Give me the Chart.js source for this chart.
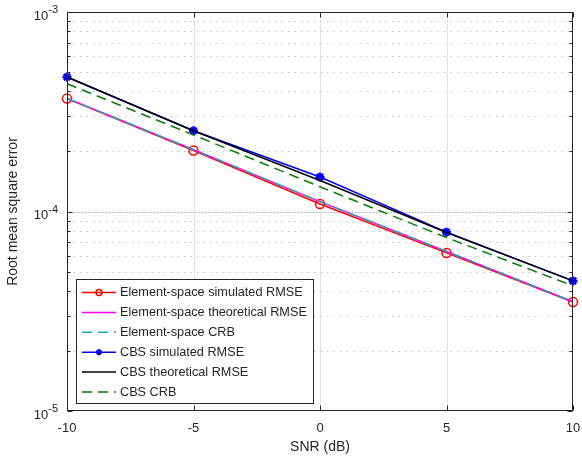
<!DOCTYPE html>
<html>
<head>
<meta charset="utf-8">
<script src="https://cdn.jsdelivr.net/npm/chart.js@4.4.0/dist/chart.umd.min.js"></script>
<style>
  body { margin: 0; background: #fff; }
  #wrap { width: 582px; height: 460px; }
</style>
</head>
<body>
<div id="wrap"><canvas id="rmseChart" width="582" height="460"></canvas></div>
<script>
// values
const snr = [-10, -5, 0, 5, 10];
const esSimulated = [3.68e-4, 2.02e-4, 1.09e-4, 6.2e-5, 3.52e-5];
const esTheory = [3.69e-4, 2.04e-4, 1.12e-4, 6.3e-5, 3.53e-5];
const esCrb = [3.69e-4, 2.04e-4, 1.12e-4, 6.3e-5, 3.53e-5];
const cbsSimulated = [4.72e-4, 2.54e-4, 1.49e-4, 7.88e-5, 4.49e-5];
const cbsTheory = [4.72e-4, 2.54e-4, 1.43e-4, 7.85e-5, 4.49e-5];
const cbsCrb = [4.37e-4, 2.42e-4, 1.33e-4, 7.4e-5, 4.24e-5];
const xTicks = [-10, -5, 0, 5, 10];
const yDecades = [-5, -4, -3];

const FONT = '"Liberation Sans", Arial, sans-serif';
const INK = '#262626';

function pts(arr) {
    return snr.map((x, i) => ({ x: x, y: arr[i] }));
}

function series(label, data, color, opts, order) {
    return Object.assign({
        label: label,
        data: pts(data),
        borderColor: color,
        backgroundColor: color,
        borderWidth: 1.5,
        pointRadius: 0,
        clip: false,
        order: order
    }, opts);
}

const datasets = [
    series('Element-space simulated RMSE', esSimulated, '#ff0000',
        { pointStyle: 'circle', pointRadius: 4.5, pointBorderWidth: 1.5, pointBackgroundColor: 'rgba(0,0,0,0)' }, 6),
    series('Element-space theoretical RMSE', esTheory, '#ff00ff', {}, 5),
    series('Element-space CRB', esCrb, '#1fa5ac', { borderDash: [10, 6] }, 4),
    series('CBS simulated RMSE', cbsSimulated, '#0000ff',
        { pointStyle: 'star', pointRadius: 4.5, pointBorderWidth: 2.5 }, 3),
    series('CBS theoretical RMSE', cbsTheory, '#000000', {}, 2),
    series('CBS CRB', cbsCrb, '#008000', { borderDash: [10, 6] }, 1)
];

const frame = {
    id: 'frame',
    beforeDraw(chart) {
        const ctx = chart.ctx;
        ctx.save();
        ctx.fillStyle = '#fff';
        ctx.fillRect(0, 0, chart.width, chart.height);
        ctx.restore();
    },
    beforeDatasetsDraw(chart) {
        const ctx = chart.ctx, a = chart.chartArea;
        const xs = chart.scales.x, ys = chart.scales.y;
        ctx.save();
        ctx.lineWidth = 1;
        // vertical major grid
        ctx.strokeStyle = '#e2e2e2';
        xTicks.slice(1, -1).forEach(v => {
            const px = Math.round(xs.getPixelForValue(v)) + 0.5;
            ctx.beginPath(); ctx.moveTo(px, a.top); ctx.lineTo(px, a.bottom); ctx.stroke();
        });
        // horizontal minor grid (dotted)
        ctx.strokeStyle = '#c4c4c4';
        ctx.setLineDash([1.5, 5]);
        yDecades.slice(0, -1).forEach(e => {
            for (let k = 2; k <= 9; k++) {
                const py = Math.round(ys.getPixelForValue(k * Math.pow(10, e))) + 0.5;
                ctx.beginPath(); ctx.moveTo(a.left, py); ctx.lineTo(a.right, py); ctx.stroke();
            }
        });
        // inner major decade lines
        yDecades.slice(1, -1).forEach(e => {
            const py = Math.round(ys.getPixelForValue(Math.pow(10, e))) + 0.5;
            ctx.setLineDash([]);
            ctx.strokeStyle = '#e6e6e6';
            ctx.beginPath(); ctx.moveTo(a.left, py); ctx.lineTo(a.right, py); ctx.stroke();
            ctx.setLineDash([1, 2]);
            ctx.strokeStyle = '#a8a8a8';
            ctx.beginPath(); ctx.moveTo(a.left, py); ctx.lineTo(a.right, py); ctx.stroke();
        });
        ctx.restore();
    },
    afterDatasetsDraw(chart) {
        const ctx = chart.ctx, a = chart.chartArea;
        const xs = chart.scales.x, ys = chart.scales.y;
        const L = Math.round(a.left) + 0.5, R = Math.round(a.right) - 0.5;
        const T = Math.round(a.top) + 0.5, B = Math.round(a.bottom) - 0.5;
        ctx.save();
        ctx.strokeStyle = INK;
        ctx.lineWidth = 1;
        ctx.strokeRect(L, T, R - L, B - T);

        // tick marks, pointing inward
        ctx.beginPath();
        xTicks.forEach(v => {
            const px = Math.round(xs.getPixelForValue(v)) + 0.5;
            ctx.moveTo(px, B); ctx.lineTo(px, B - 5);
            ctx.moveTo(px, T); ctx.lineTo(px, T + 5);
        });
        yDecades.forEach((e, i) => {
            const py = Math.round(ys.getPixelForValue(Math.pow(10, e))) + 0.5;
            ctx.moveTo(L, py); ctx.lineTo(L + 5, py);
            ctx.moveTo(R, py); ctx.lineTo(R - 5, py);
            if (i < yDecades.length - 1) {
                for (let k = 2; k <= 9; k++) {
                    const my = Math.round(ys.getPixelForValue(k * Math.pow(10, e))) + 0.5;
                    ctx.moveTo(L, my); ctx.lineTo(L + 3, my);
                    ctx.moveTo(R, my); ctx.lineTo(R - 3, my);
                }
            }
        });
        ctx.stroke();

        // tick labels
        ctx.fillStyle = INK;
        ctx.textBaseline = 'middle';
        ctx.textAlign = 'center';
        ctx.font = '13px ' + FONT;
        xTicks.forEach(v => {
            ctx.fillText(String(v), xs.getPixelForValue(v), 428);
        });
        yDecades.forEach(e => {
            const py = ys.getPixelForValue(Math.pow(10, e));
            const sup = String(e);
            ctx.textAlign = 'right';
            ctx.font = '11px ' + FONT;
            const sw = ctx.measureText(sup).width;
            ctx.fillText(sup, 58, py - 2);
            ctx.font = '13px ' + FONT;
            ctx.fillText('10', 58 - sw, py + 4);
        });

        // axis titles
        ctx.font = '14px ' + FONT;
        ctx.textAlign = 'center';
        ctx.fillText('SNR (dB)', (a.left + a.right) / 2, 447);
        ctx.save();
        ctx.translate(13, (a.top + a.bottom) / 2);
        ctx.rotate(-Math.PI / 2);
        ctx.fillText('Root mean square error', 0, 0);
        ctx.restore();

        // legend box
        const bx = 76.5, by = 279.5, bw = 237, bh = 124;
        ctx.fillStyle = '#fff';
        ctx.fillRect(bx, by, bw, bh);
        ctx.strokeStyle = INK;
        ctx.strokeRect(bx, by, bw, bh);
        ctx.font = '12.7px ' + FONT;
        ctx.textAlign = 'left';
        chart.data.datasets.forEach((ds, i) => {
            const cy = 292.5 + i * 19.9;
            ctx.strokeStyle = ds.borderColor;
            ctx.lineWidth = 1.5;
            ctx.setLineDash(ds.borderDash || []);
            ctx.beginPath(); ctx.moveTo(82, cy); ctx.lineTo(116, cy); ctx.stroke();
            ctx.setLineDash([]);
            if (ds.pointStyle === 'circle') {
                ctx.beginPath(); ctx.arc(99, cy, 3, 0, Math.PI * 2); ctx.stroke();
            } else if (ds.pointStyle === 'star') {
                ctx.lineWidth = 2;
                ctx.beginPath();
                for (let k = 0; k < 4; k++) {
                    const ang = k * Math.PI / 4;
                    ctx.moveTo(99 - 3 * Math.cos(ang), cy - 3 * Math.sin(ang));
                    ctx.lineTo(99 + 3 * Math.cos(ang), cy + 3 * Math.sin(ang));
                }
                ctx.stroke();
            }
            ctx.fillStyle = INK;
            ctx.fillText(ds.label, 120, cy);
        });
        ctx.restore();
    }
};

new Chart(document.getElementById('rmseChart'), {
    type: 'line',
    data: { datasets: datasets },
    options: {
        responsive: false,
        animation: false,
        layout: { padding: { left: 67, right: 9, top: 12, bottom: 49 } },
        plugins: { legend: { display: false }, tooltip: { enabled: false } },
        scales: {
            x: { type: 'linear', min: -10, max: 10, display: false },
            y: { type: 'logarithmic', min: 1e-5, max: 1e-3, display: false }
        }
    },
    plugins: [frame]
});
</script>
</body>
</html>
